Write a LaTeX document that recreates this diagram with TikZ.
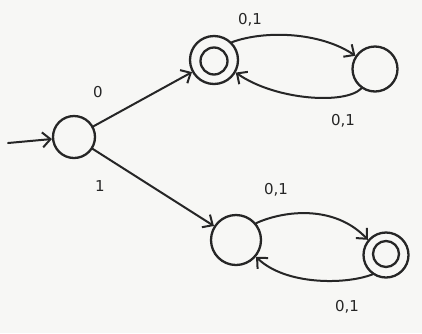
\documentclass[tikz,border=0pt]{standalone}
\usepackage{fontspec}
\setmainfont{DejaVu Sans}
\usetikzlibrary{arrows.meta}
\definecolor{pencil}{HTML}{262626}
\definecolor{paper}{HTML}{F7F7F5}
\tikzset{
  state/.style={circle, draw=pencil, line width=2.3pt, inner sep=0pt},
  inner ring/.style={circle, draw=pencil, line width=2.3pt, inner sep=0pt},
  edge/.style={draw=pencil, line width=2pt, line cap=round,
    -{Straight Barb[length=8pt,width=15pt,line width=2pt]}},
  lbl/.style={text=pencil, font=\fontsize{15}{17}\selectfont}
}
\begin{document}
\begin{tikzpicture}[x=1pt,y=-1pt]
  \fill[paper] (0,0) rectangle (422,333);
  \useasboundingbox (0,0) rectangle (422,333);
  % states
  \node[state, minimum size=42pt] (q0) at (74,137) {};
  \node[state, minimum size=48pt] (q1) at (214,60) {};
  \node[inner ring, minimum size=27pt] (q1i) at (214,61) {};
  \node[state, minimum size=45pt] (q2) at (375,69) {};
  \node[state, minimum size=50pt] (q3) at (236,240) {};
  \node[state, minimum size=45pt] (q4) at (386,255) {};
  \node[inner ring, minimum size=26pt] (q4i) at (386,254) {};
  \coordinate (start) at (8,143);
  % transitions
  \draw[edge] (start) -- (q0);
  \draw[edge] (q0) -- (q1);
  \draw[edge] (q0) -- (q3);
  \draw[edge] (q1.45) .. controls (265,30) and (320,32) .. (q2.146);
  \draw[edge] (q2.-125) .. controls (345,105) and (275,100) .. (q1.-30);
  \draw[edge] (q3.40) .. controls (285,210) and (335,205) .. (q4.140);
  \draw[edge] (q4.-125) .. controls (345,285) and (285,285) .. (q3.-40);
  % labels
  \node[lbl] (l0) at (98,92) {0};
  \node[lbl] (l1) at (100,186) {1};
  \node[lbl] (l12) at (250,20) {0,1};
  \node[lbl] (l21) at (343,121) {0,1};
  \node[lbl] (l34) at (276,190) {0,1};
  \node[lbl] (l43) at (347,307) {0,1};
\end{tikzpicture}
\end{document}
